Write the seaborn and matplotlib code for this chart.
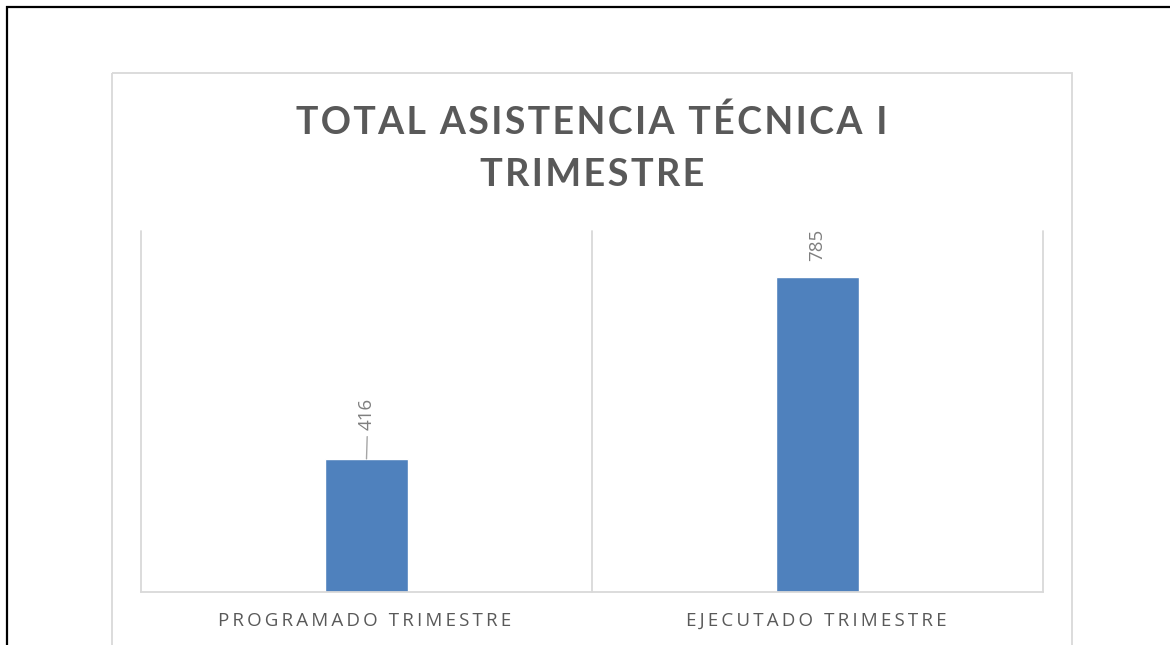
import matplotlib
matplotlib.use("Agg")
import matplotlib.pyplot as plt
import seaborn as sns
import pandas as pd
from matplotlib.patches import Rectangle

# Data
categories = ["PROGRAMADO TRIMESTRE", "EJECUTADO TRIMESTRE"]
values = [416, 785]
title_lines = ["TOTAL ASISTENCIA TÉCNICA I", "TRIMESTRE"]

sns.set_theme(style="white")
plt.rcParams["font.family"] = ["Open Sans", "DejaVu Sans"]


def tracked(text, sep="\u200a"):
    """Spread letters apart with narrow spaces."""
    return sep.join(text)


W, H = 1170, 645
fig = plt.figure(figsize=(W / 100, H / 100), dpi=100)

# Page / chart frame drawn in pixel coordinates
bg = fig.add_axes([0, 0, 1, 1], zorder=-5)
bg.set_xlim(0, W)
bg.set_ylim(H, 0)
bg.axis("off")
bg.plot([6, W], [6.5, 6.5], color="black", lw=1.6, solid_capstyle="butt")
bg.plot([7, 7], [6, H], color="black", lw=1.6, solid_capstyle="butt")
bg.add_patch(Rectangle((112, 73), 960, 640, fill=False, edgecolor="#D9D9D9", lw=1.3))

# Plot area
ax = fig.add_axes([141 / W, 1 - 592 / H, (1043 - 141) / W, (592 - 231) / H])
df = pd.DataFrame({"cat": categories, "val": values})
sns.barplot(data=df, x="cat", y="val", color="#4F81BD", saturation=1,
            width=0.184, ax=ax, zorder=3)

ax.set_xlim(-0.5, len(categories) - 0.5)
ax.set_ylim(146, 878)
ax.set_xlabel("")
ax.set_ylabel("")
ax.set_yticks([])
ax.set_xticks(range(len(categories)))
ax.set_xticklabels([])
ax.tick_params(axis="x", length=0)
for side in ["top", "left", "right"]:
    ax.spines[side].set_visible(False)
ax.spines["bottom"].set_color("#D9D9D9")
ax.spines["bottom"].set_linewidth(1.3)
ax.spines["bottom"].set_zorder(4)

# Category boundary gridlines
for xb in [-0.5 + k for k in range(len(categories) + 1)]:
    ax.axvline(xb, color="#D9D9D9", lw=1.3, zorder=1, clip_on=False)

# Category labels (tracking also follows the last letter)
for i, cat in enumerate(categories):
    ax.text(i, -29 / 361, tracked(cat, "\u2009") + "\u2009",
            transform=ax.get_xaxis_transform(),
            ha="center", va="center", fontsize=13.5, color="#595959")

# Value labels (first one is pulled up with a leader line)
label_offset = {0: 21, 1: 11.5}
for i, v in enumerate(values):
    off = label_offset[i]
    ax.annotate(str(v), xy=(i, v), xytext=(0, off), textcoords="offset points",
                rotation=90, ha="center", va="bottom", fontsize=13.5, color="#7F7F7F")
    if off > 15:
        ax.annotate("", xy=(i, v), xytext=(0.5, 16), textcoords="offset points",
                    arrowprops=dict(arrowstyle="-", color="#A6A6A6", lw=1,
                                    shrinkA=0, shrinkB=0))

# Title
title_font = ["Lato", "DejaVu Sans"]
fig.text(592 / W, 1 - 122 / H, tracked(title_lines[0]), ha="center", va="center",
         fontsize=27, fontweight="bold", color="#595959", family=title_font)
fig.text(592 / W, 1 - 175 / H, tracked(title_lines[1]), ha="center", va="center",
         fontsize=27.3, fontweight="bold", color="#595959", family=title_font)

fig.savefig("out.png", dpi=100)
